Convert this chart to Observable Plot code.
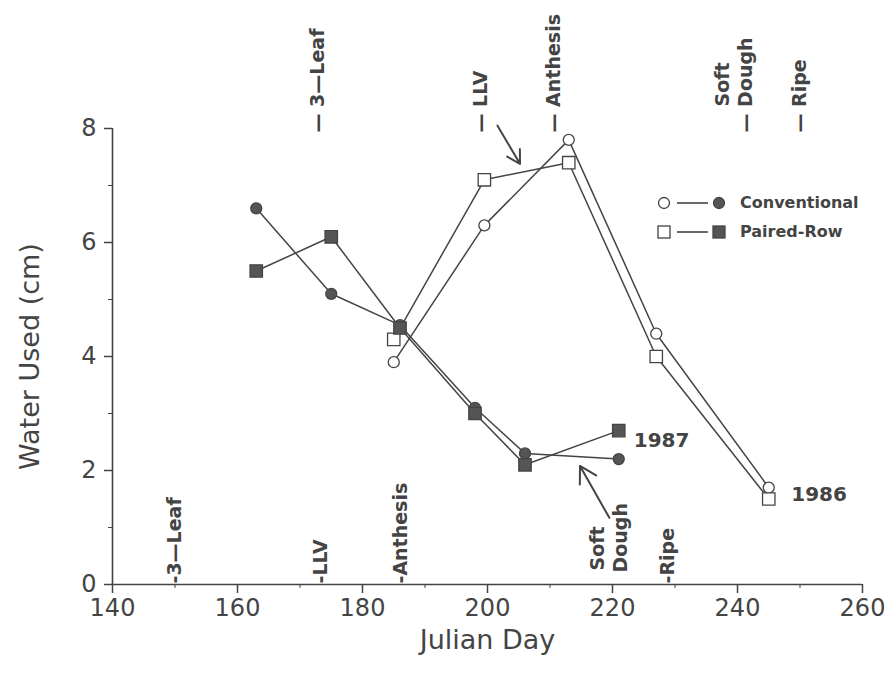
<!DOCTYPE html>
<html><head><meta charset="utf-8">
<script src="https://cdn.jsdelivr.net/npm/d3@7"></script>
<script src="https://cdn.jsdelivr.net/npm/@observablehq/plot@0.6"></script>
<style>
body{margin:0;background:#fff;}
#wrap{position:relative;width:888px;height:675px;font-family:"DejaVu Sans",sans-serif;color:#444;}
#legend{position:absolute;left:656px;top:188px;font-size:16px;font-weight:bold;}
#legend .row{display:flex;align-items:center;height:29px;}
#legend svg{margin-right:12px;}
</style></head><body><div id="wrap"><div id="legend"></div></div>
<script>
// ---- data ----
const days1986 = [185, 199.5, 213, 227, 245];
const conv1986 = [3.9, 6.3, 7.8, 4.4, 1.7];
const paired1986 = [4.3, 7.1, 7.4, 4.0, 1.5];
const days1987 = [163, 175, 186, 198, 206, 221];
const conv1987 = [6.6, 5.1, 4.55, 3.1, 2.3, 2.2];
const paired1987 = [5.5, 6.1, 4.5, 3.0, 2.1, 2.7];

const stages = ["3—Leaf", "LLV", "Anthesis", "Soft Dough", "Ripe"];
const stageDay1986 = [172.8, 198.9, 210.6, 241.3, 250];
const stageDay1987 = [149.6, 173, 185.8, 220, 228.5];

const xTicks = [140, 160, 180, 200, 220, 240, 260];
const xMinor = [150, 170, 190, 210, 230, 250];
const yTicks = [0, 2, 4, 6, 8];
const yMinor = [1, 3, 5, 7];

const yearLabels = [{year: "1987", day: 223.4, val: 2.52}, {year: "1986", day: 248.6, val: 1.58}];
const arrows = [
  {x1: 201.6, y1: 8.05, x2: 205.2, y2: 7.38},
  {x1: 219.5, y1: 1.17, x2: 214.8, y2: 2.08}
];

// ---- build rows ----
const rows = [];
function add(year, trt, days, vals) {
  days.forEach((d, i) => rows.push({year, trt, key: year + trt, day: d, val: vals[i]}));
}
add(1986, "Conventional", days1986, conv1986);
add(1986, "Paired-Row", days1986, paired1986);
add(1987, "Conventional", days1987, conv1987);
add(1987, "Paired-Row", days1987, paired1987);

const topStages = stages.map((s, i) => ({stage: s, day: stageDay1986[i]}));
const botStages = stages.map((s, i) => ({stage: s, day: stageDay1987[i]}));
const ink = "#444";
const lab = {fontSize: 19, fill: ink, rotate: -90, textAnchor: "start", lineAnchor: "middle", fontWeight: "bold"};

const chart = Plot.plot({
  width: 888, height: 675,
  marginLeft: 112, marginRight: 26, marginTop: 128, marginBottom: 91,
  x: {domain: [140, 260]},
  y: {domain: [0, 8]},
  style: {fontFamily: "DejaVu Sans, sans-serif", color: ink, background: "white", overflow: "visible"},
  marks: [
    Plot.axisX({ticks: xTicks, tickSize: 9, tickPadding: 5, fontSize: 24, label: null, stroke: ink, strokeWidth: 1.5, fill: ink, style: "letter-spacing:2px"}),
    Plot.axisX({ticks: xMinor, tickSize: 4, tickFormat: () => "", label: null, stroke: ink}),
    Plot.axisY({ticks: yTicks, tickSize: 8, tickPadding: 8, fontSize: 24, label: null, stroke: ink, strokeWidth: 1.5, fill: ink}),
    Plot.axisY({ticks: yMinor, tickSize: 4, tickFormat: () => "", label: null, stroke: ink}),
    Plot.ruleY([0], {stroke: ink, strokeWidth: 1.6}),
    Plot.ruleX([140], {stroke: ink, strokeWidth: 1.6}),
    Plot.text(["Julian Day"], {frameAnchor: "bottom", textAnchor: "middle", dy: 56, lineAnchor: "middle", fontSize: 27, fill: ink, style: "letter-spacing:2.5px"}),
    Plot.text(["Water Used (cm)"], {frameAnchor: "left", textAnchor: "middle", dx: -82, rotate: -90, fontSize: 27, fill: ink, style: "letter-spacing:2.5px"}),
    Plot.line(rows, {x: "day", y: "val", z: "key", stroke: ink, strokeWidth: 1.5}),
    Plot.dot(rows.filter(d => d.trt === "Conventional"), {x: "day", y: "val", symbol: "circle", r: 5.5,
      fill: d => d.year === 1987 ? "#555" : "white", stroke: ink, strokeWidth: 1.3}),
    Plot.dot(rows.filter(d => d.trt === "Paired-Row"), {x: "day", y: "val", symbol: "square", r: 7,
      fill: d => d.year === 1987 ? "#555" : "white", stroke: ink, strokeWidth: 1.3}),
    Plot.arrow(arrows, {x1: "x1", y1: "y1", x2: "x2", y2: "y2", stroke: ink, strokeWidth: 2, headLength: 14}),
    Plot.text(yearLabels, {x: "day", y: "val", text: "year", textAnchor: "start", fontSize: 20, fontWeight: "bold", fill: ink}),
    // 1986 stages (top)
    Plot.text(topStages.filter(d => d.stage !== "Soft Dough"), {...lab, x: "day", y: 8, dy: 4, text: d => "— " + d.stage}),
    Plot.text(topStages.filter(d => d.stage === "Soft Dough"), {...lab, x: "day", y: 8, dy: 4, text: () => "— Dough"}),
    Plot.text(topStages.filter(d => d.stage === "Soft Dough"), {...lab, x: "day", y: 8, dy: -22, dx: -23, text: () => "Soft"}),
    // 1987 stages (bottom)
    Plot.text(botStages.filter(d => d.stage !== "Soft Dough"), {...lab, x: "day", y: 0, dy: -1, dx: 2, text: d => "-" + d.stage}),
    Plot.text(botStages.filter(d => d.stage === "Soft Dough"), {...lab, x: "day", y: 0, dy: -12, dx: 8, text: () => "Dough"}),
    Plot.text(botStages.filter(d => d.stage === "Soft Dough"), {...lab, x: "day", y: 0, dy: -14, dx: -15, text: () => "Soft"})
  ]
});
document.getElementById("wrap").prepend(chart);

// ---- legend ----
const legendItems = ["Conventional", "Paired-Row"];
const leg = document.getElementById("legend");
legendItems.forEach((name, i) => {
  const row = document.createElement("div");
  row.className = "row";
  const shape = i === 0
    ? (f) => `<circle cx="${f}" cy="10" r="5.5" />`
    : (f) => `<rect x="${f - 6}" y="4" width="12" height="12" />`;
  row.innerHTML = `<svg width="72" height="20" style="overflow:visible">
    <g stroke="${ink}" stroke-width="1.3">
      <g fill="white">${shape(8)}</g>
      <line x1="21" y1="10" x2="52" y2="10" stroke-width="1.6"/>
      <g fill="#555">${shape(63)}</g>
    </g></svg><span>${name}</span>`;
  leg.appendChild(row);
});
</script></body></html>
